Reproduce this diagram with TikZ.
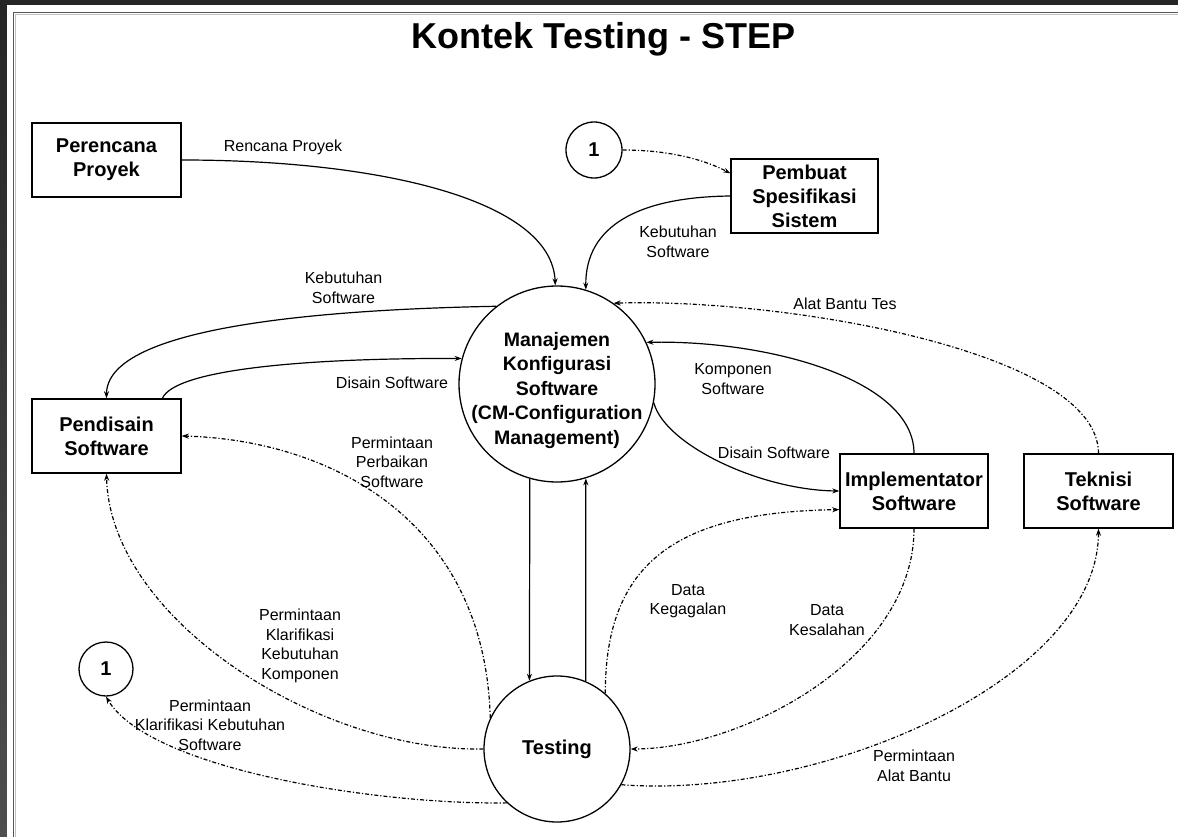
\documentclass[tikz,border=0pt]{standalone}
\usepackage{fontspec}
\setmainfont{Liberation Sans}
\usetikzlibrary{arrows.meta,calc}
\definecolor{bandtop}{HTML}{262626}
\definecolor{bandlow}{HTML}{4E4E4E}
\definecolor{framegray}{HTML}{555555}
\begin{document}
\begin{tikzpicture}[x=1pt,y=1pt,
  boxnode/.style={draw=black, line width=1.4pt, rectangle, minimum width=149pt,
    minimum height=74pt, inner sep=0pt, align=center,
    font=\fontsize{20}{24}\selectfont\bfseries},
  bubble/.style={draw=black, line width=1.3pt, circle, inner sep=0pt, align=center,
    font=\fontsize{20}{24}\selectfont\bfseries},
  solidflow/.style={line width=1.2pt, -{Stealth[length=7pt,width=5pt]}},
  dashflow/.style={solidflow, dash pattern=on 4pt off 2pt on 1.2pt off 2pt},
  lbl/.style={inner sep=0pt, align=center, font=\fontsize{16}{19.5}\selectfont},
]
\useasboundingbox (0,0) rectangle (1178,-837);
% window frame
\fill[bandtop] (0,0) rectangle (1178,-837);
\shade[top color=bandtop, bottom color=bandlow] (0,-5) rectangle (7,-837);
\fill[white] (7,-5) rectangle (1178,-837);
\draw[framegray, line width=1.6pt] (13.5,-837) -- (13.5,-12.5) -- (1178,-12.5);
\draw[black!25, line width=0.8pt] (15.5,-837) -- (15.5,-14.6) -- (1178,-14.6);

% title
\node[anchor=base, inner sep=0pt, font=\fontsize{36}{40}\selectfont\bfseries] (title)
  at (603.5,-49) {Kontek Testing - STEP};

% entities
\node[boxnode] (PP) at (106.5,-160) {Perencana\\Proyek};
\node[boxnode] (PD) at (106.5,-436) {Pendisain\\Software};
\node[boxnode, minimum width=147pt] (PS) at (804.5,-196) {Pembuat\\Spesifikasi\\Sistem};
\node[boxnode, minimum width=148pt] (IS) at (914,-491) {Implementator\\Software};
\node[boxnode] (TS) at (1098.5,-491) {Teknisi\\Software};

% processes
\node[bubble, minimum size=196pt] (M) at (557,-384) {};
\node[inner sep=0pt, align=center, font=\fontsize{19.5}{24.5}\selectfont\bfseries] (Mtxt)
  at (557,-390) {Manajemen\\Konfigurasi\\Software\\(CM-Configuration\\Management)};
\node[bubble, minimum size=146pt] (T) at (557,-749) {Testing};
\node[bubble, minimum size=56pt] (C1a) at (594,-150) {1};
\node[bubble, minimum size=54pt] (C1b) at (106,-669) {1};

% solid flows
\draw[solidflow] (PP.east) .. controls (380,-160) and (552,-200) .. (M.91);
\draw[solidflow] (PS.west) .. controls (640,-197) and (585,-225) .. (M.73);
\draw[solidflow] (M.128) .. controls (300,-310) and (106.5,-330) .. (PD.north);
\draw[solidflow] (PD.34) .. controls (175,-370) and (300,-358) .. (M.165);
\draw[solidflow] (IS.north) .. controls (914,-380) and (770,-340) .. (M.25);
\draw[solidflow] (M.-11) .. controls (665,-445) and (760,-490) .. (IS.west);
\draw[solidflow] (M.254) -- (T.112);
\draw[solidflow] (T.67) -- (M.287);

% dashed flows
\draw[dashflow] (C1a.east) .. controls (670,-150) and (705,-160) .. (PS.163);
\draw[dashflow] (T.155) .. controls (485,-520) and (330,-440) .. (PD.east);
\draw[dashflow] (T.180) .. controls (320,-752) and (110,-620) .. (PD.south);
\draw[dashflow] (T.227) .. controls (380,-805) and (150,-770) .. (C1b.south);
\draw[dashflow] (T.49) .. controls (605,-560) and (680,-512) .. (IS.194);
\draw[dashflow] (IS.south) .. controls (914,-660) and (740,-749) .. (T.0);
\draw[dashflow] (T.-29) .. controls (820,-800) and (1098,-680) .. (TS.south);
\draw[dashflow] (TS.north) .. controls (1098,-350) and (780,-298) .. (M.55);

% flow labels
\node[lbl] (lRP) at (283,-147) {Rencana Proyek};
\node[lbl] (lKS1) at (678,-242) {Kebutuhan\\Software};
\node[lbl] (lKS2) at (343.5,-288) {Kebutuhan\\Software};
\node[lbl] (lABT) at (845,-304) {Alat Bantu Tes};
\node[lbl] (lDS1) at (392,-383) {Disain Software};
\node[lbl] (lKomp) at (733,-379) {Komponen\\Software};
\node[lbl] (lDS2) at (774,-453) {Disain Software};
\node[lbl] (lPPS) at (392,-462) {Permintaan\\Perbaikan\\Software};
\node[lbl] (lDK) at (688,-601) {Data\\Kegagalan};
\node[lbl] (lDE) at (827,-620) {Data\\Kesalahan};
\node[lbl] (lPKK) at (300,-646) {Permintaan\\Klarifikasi\\Kebutuhan\\Komponen};
\node[lbl] (lPKS) at (210,-725) {Permintaan\\Klarifikasi Kebutuhan\\Software};
\node[lbl] (lPAB) at (914,-766) {Permintaan\\Alat Bantu};
\end{tikzpicture}
\end{document}
